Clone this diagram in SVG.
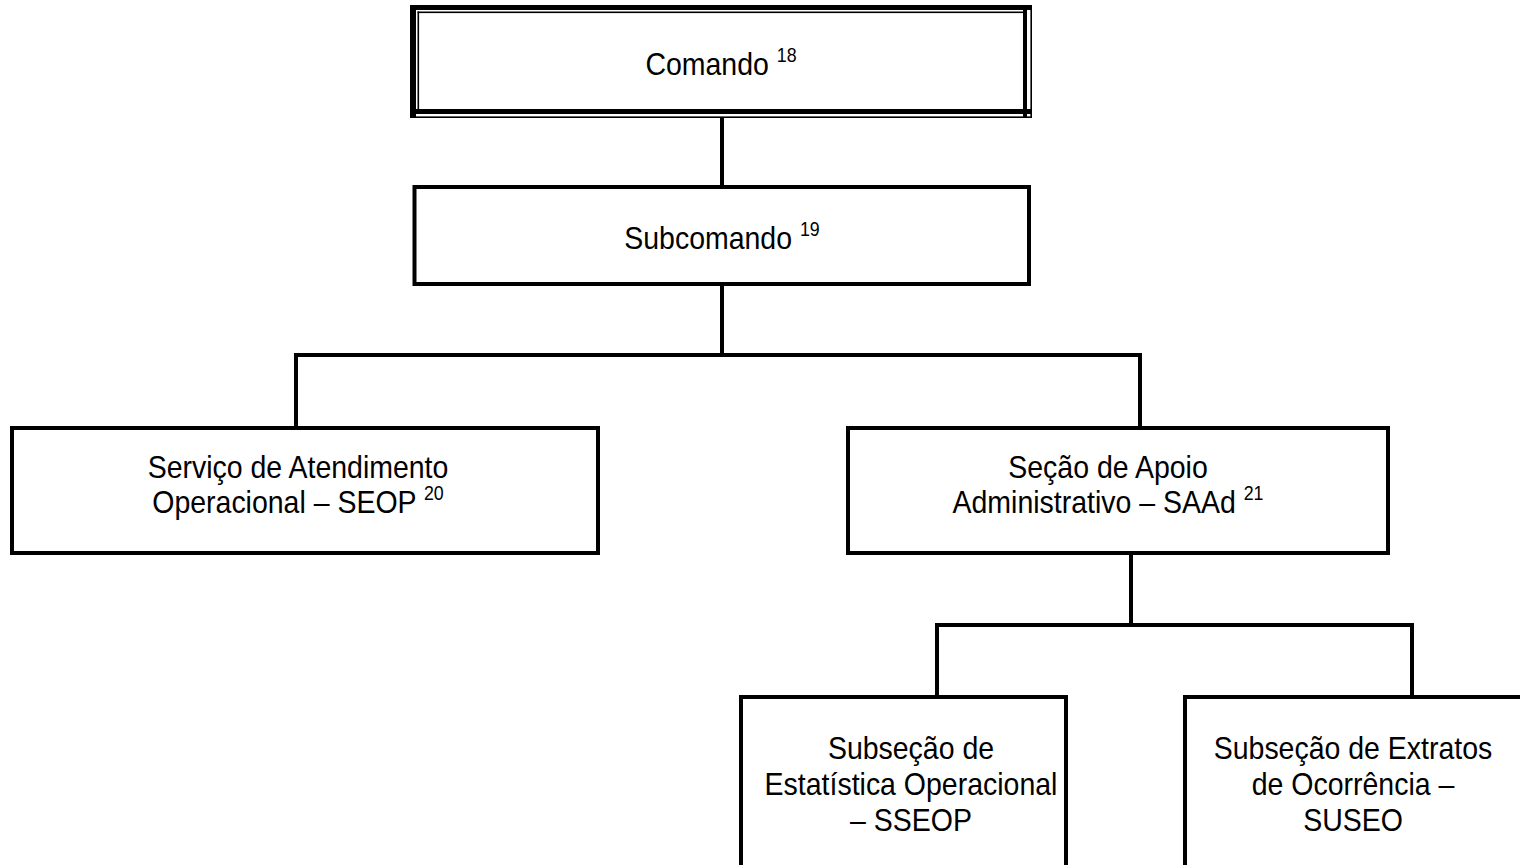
<svg xmlns="http://www.w3.org/2000/svg" width="1520" height="865" viewBox="0 0 1520 865">
  <style>
    .box { fill: #ffffff; stroke: #000000; stroke-width: 4; }
    .wire { fill: none; stroke: #000000; stroke-width: 4; stroke-linecap: square; }
    .lbl { font-family: "Liberation Sans", Arial, sans-serif; font-size: 32px; fill: #000000; text-anchor: middle; }
    .sup { font-size: 20px; }
  </style>
  <rect width="1520" height="865" fill="#ffffff"/>

  <!-- connectors -->
  <g id="connectors">
    <path class="wire" d="M722 118 V187"/>
    <path class="wire" d="M722 284 V355 M296 355 H1140 M296 355 V428 M1140 355 V428"/>
    <path class="wire" d="M1131 553 V625 M937 625 H1412 M937 625 V697 M1412 625 V697"/>
  </g>

  <!-- top node with thick/thin double frame -->
  <g id="comando">
    <rect x="410" y="5" width="622" height="113" fill="#ffffff"/>
    <g fill="#000000">
      <rect x="410" y="5" width="622" height="5"/>
      <rect x="410" y="5" width="6" height="113"/>
      <rect x="1023" y="5" width="4" height="113"/>
      <rect x="410" y="109" width="622" height="5"/>
      <rect x="417.5" y="11.5" width="605.5" height="1.6"/>
      <rect x="417.5" y="11.5" width="1.6" height="97.5"/>
      <rect x="1030.4" y="5" width="1.6" height="113"/>
      <rect x="410" y="116.4" width="622" height="1.6"/>
    </g>
    <g transform="translate(721 0) scale(0.89 1)">
      <text class="lbl" x="0" y="75.5">Comando <tspan class="sup" dy="-13">18</tspan></text>
    </g>
  </g>

  <g id="subcomando">
    <rect class="box" x="414.5" y="187" width="614.5" height="97"/>
    <g transform="translate(722 0) scale(0.89 1)">
      <text class="lbl" x="0" y="249.5">Subcomando <tspan class="sup" dy="-13">19</tspan></text>
    </g>
  </g>

  <g id="seop">
    <rect class="box" x="12" y="428" width="586" height="125"/>
    <g transform="translate(298 0) scale(0.89 1)">
      <text class="lbl" x="0" y="478.5">Serviço de Atendimento</text>
      <text class="lbl" x="0" y="513.5">Operacional – SEOP <tspan class="sup" dy="-13">20</tspan></text>
    </g>
  </g>

  <g id="saad">
    <rect class="box" x="848" y="428" width="540" height="125"/>
    <g transform="translate(1108 0) scale(0.89 1)">
      <text class="lbl" x="0" y="478.5">Seção de Apoio</text>
      <text class="lbl" x="0" y="513.5">Administrativo – SAAd <tspan class="sup" dy="-13">21</tspan></text>
    </g>
  </g>

  <g id="sseop">
    <rect class="box" x="741" y="697" width="325" height="180"/>
    <g transform="translate(911 0) scale(0.89 1)">
      <text class="lbl" x="0" y="759.5">Subseção de</text>
      <text class="lbl" x="0" y="795.5">Estatística Operacional</text>
      <text class="lbl" x="0" y="831.5">– SSEOP</text>
    </g>
  </g>

  <g id="suseo">
    <rect class="box" x="1185" y="697" width="345" height="180"/>
    <g transform="translate(1353 0) scale(0.89 1)">
      <text class="lbl" x="0" y="759.5">Subseção de Extratos</text>
      <text class="lbl" x="0" y="795.5">de Ocorrência –</text>
      <text class="lbl" x="0" y="831.5">SUSEO</text>
    </g>
  </g>
</svg>
